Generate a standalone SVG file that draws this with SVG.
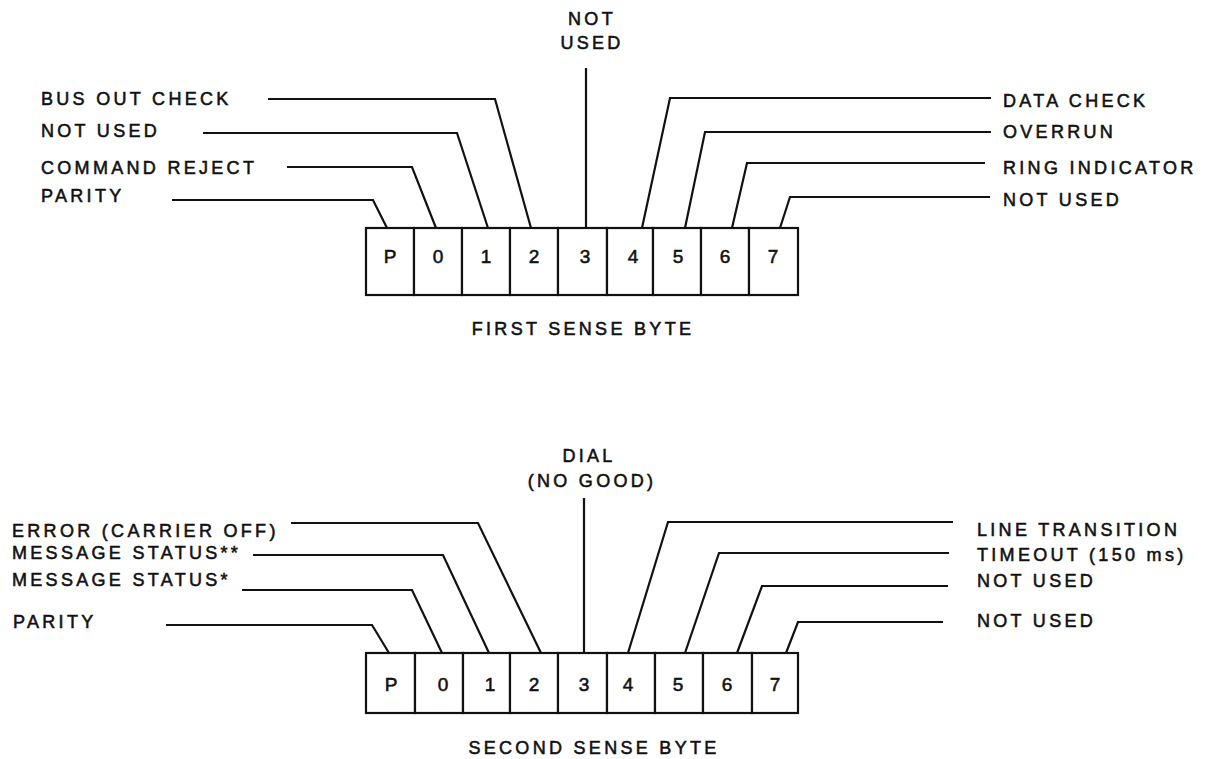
<svg xmlns="http://www.w3.org/2000/svg" width="1206" height="759" viewBox="0 0 1206 759">
<style>
text{font-family:"Liberation Sans",Arial,sans-serif;font-size:18px;fill:#111;letter-spacing:3.3px;stroke:#111;stroke-width:0.55px}
.d{font-size:19px;letter-spacing:0;text-anchor:middle}
.c{text-anchor:middle}
.box{fill:#fff;stroke:#111;stroke-width:2.2}
.ln{fill:none;stroke:#111;stroke-width:2.2;stroke-linejoin:miter}
</style>
<rect width="1206" height="759" fill="#fff"/>
<g id="byte1">
<g id="b1-P"><rect class="box" x="366" y="228" width="48" height="67"/><text class="d" x="390" y="263">P</text></g>
<g id="b1-0"><rect class="box" x="414" y="228" width="48" height="67"/><text class="d" x="438" y="263">0</text></g>
<g id="b1-1"><rect class="box" x="462" y="228" width="48" height="67"/><text class="d" x="486" y="263">1</text></g>
<g id="b1-2"><rect class="box" x="510" y="228" width="48" height="67"/><text class="d" x="534" y="263">2</text></g>
<g id="b1-3"><rect class="box" x="558" y="228" width="49" height="67"/><text class="d" x="585" y="263">3</text></g>
<g id="b1-4"><rect class="box" x="607" y="228" width="46" height="67"/><text class="d" x="633" y="263">4</text></g>
<g id="b1-5"><rect class="box" x="653" y="228" width="48" height="67"/><text class="d" x="678" y="263">5</text></g>
<g id="b1-6"><rect class="box" x="701" y="228" width="48" height="67"/><text class="d" x="725" y="263">6</text></g>
<g id="b1-7"><rect class="box" x="749" y="228" width="49" height="67"/><text class="d" x="773" y="263">7</text></g>
</g>
<g id="labels1">
<text x="41" y="105">BUS OUT CHECK</text>
<text x="41" y="137">NOT USED</text>
<text x="41" y="174">COMMAND REJECT</text>
<text x="41" y="202">PARITY</text>
<text x="1003" y="107">DATA CHECK</text>
<text x="1003" y="138">OVERRUN</text>
<text x="1003" y="174">RING INDICATOR</text>
<text x="1003" y="206">NOT USED</text>
<text class="c" x="592" y="25">NOT</text>
<text class="c" x="592" y="49">USED</text>
<text class="c" x="583" y="335">FIRST SENSE BYTE</text>
</g>
<g id="connectors">
<polyline class="ln" points="172,200 373,200 387,228"/>
<polyline class="ln" points="287,167 412,167 436,228"/>
<polyline class="ln" points="203,133 457,133 488,228"/>
<polyline class="ln" points="268,99 495,99 531,228"/>
<polyline class="ln" points="586,68 586,228"/>
<polyline class="ln" points="991,98 670,98 642,228"/>
<polyline class="ln" points="991,132 705,132 685,228"/>
<polyline class="ln" points="985,163 747,163 732,228"/>
<polyline class="ln" points="990,197 790,197 780,228"/>
<polyline class="ln" points="166,625 372,625 389,653"/>
<polyline class="ln" points="242,590 412,590 442,653"/>
<polyline class="ln" points="253,555 443,555 489,653"/>
<polyline class="ln" points="291,523 478,523 541,653"/>
<polyline class="ln" points="584,498 584,653"/>
<polyline class="ln" points="953,522 668,522 628,653"/>
<polyline class="ln" points="949,553 719,553 685,653"/>
<polyline class="ln" points="948,586 762,586 737,653"/>
<polyline class="ln" points="943,622 798,622 786,653"/>
</g>
<g id="byte2">
<g id="b2-P"><rect class="box" x="366" y="653" width="49" height="60"/><text class="d" x="391" y="691">P</text></g>
<g id="b2-0"><rect class="box" x="415" y="653" width="48" height="60"/><text class="d" x="443" y="691">0</text></g>
<g id="b2-1"><rect class="box" x="463" y="653" width="47" height="60"/><text class="d" x="490" y="691">1</text></g>
<g id="b2-2"><rect class="box" x="510" y="653" width="48" height="60"/><text class="d" x="534" y="691">2</text></g>
<g id="b2-3"><rect class="box" x="558" y="653" width="49" height="60"/><text class="d" x="584" y="691">3</text></g>
<g id="b2-4"><rect class="box" x="607" y="653" width="48" height="60"/><text class="d" x="628" y="691">4</text></g>
<g id="b2-5"><rect class="box" x="655" y="653" width="48" height="60"/><text class="d" x="678" y="691">5</text></g>
<g id="b2-6"><rect class="box" x="703" y="653" width="49" height="60"/><text class="d" x="727" y="691">6</text></g>
<g id="b2-7"><rect class="box" x="752" y="653" width="46" height="60"/><text class="d" x="775" y="691">7</text></g>
</g>
<g id="labels2">
<text x="12" y="537">ERROR (CARRIER OFF)</text>
<text x="12" y="559">MESSAGE STATUS**</text>
<text x="12" y="586">MESSAGE STATUS*</text>
<text x="13" y="628">PARITY</text>
<text x="977" y="536">LINE TRANSITION</text>
<text x="977" y="561">TIMEOUT (150 ms)</text>
<text x="977" y="587">NOT USED</text>
<text x="977" y="627">NOT USED</text>
<text class="c" x="589" y="462">DIAL</text>
<text class="c" x="592" y="487">(NO GOOD)</text>
<text class="c" x="594" y="754">SECOND SENSE BYTE</text>
</g>
</svg>
